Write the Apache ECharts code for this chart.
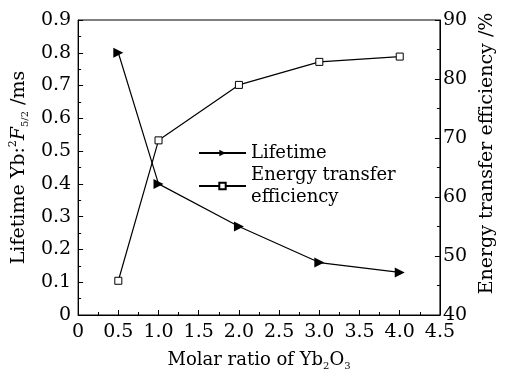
<!DOCTYPE html>
<html>
<head>
<meta charset="utf-8">
<script src="https://cdn.jsdelivr.net/npm/echarts@6/dist/echarts.min.js"></script>
<style>
  html, body { margin: 0; padding: 0; background: #fff; }
  #chart { width: 505px; height: 376px; }
</style>
</head>
<body>
<div id="chart"></div>
<script>
// molar ratio of Yb2O3
var ratios = [0.5, 1.0, 2.0, 3.0, 4.0];
// lifetime, ms
var lifetime = [0.80, 0.40, 0.27, 0.16, 0.13];
// energy transfer efficiency, %
var efficiency = [45.8, 69.6, 79.0, 82.9, 83.8];

var font = 'DejaVu Serif';

function pairs(xs, ys) {
    var out = [];
    for (var i = 0; i < xs.length; i++) {
        out.push([xs[i], ys[i]]);
    }
    return out;
}

var chart = echarts.init(document.getElementById('chart'));

var tickStyle = { inside: true, length: 5, lineStyle: { color: '#000', width: 1 } };
var minorStyle = { show: true, splitNumber: 2, length: 3, lineStyle: { color: '#000', width: 1 } };
var nameRich = {
    sup: { fontFamily: font, fontSize: 11, color: '#000', verticalAlign: 'top', lineHeight: 22 },
    sub: { fontFamily: font, fontSize: 10, color: '#000', verticalAlign: 'bottom', lineHeight: 22, padding: [6, 0, 0, 0] },
    it: { fontFamily: font, fontSize: 19, fontStyle: 'italic', color: '#000', lineHeight: 22 }
};

var option = {
    animation: false,
    backgroundColor: '#fff',
    grid: {
        left: 73, right: 50, top: 20, bottom: 53,
        show: true, borderColor: '#000', borderWidth: 1
    },
    legend: {
        orient: 'vertical',
        left: 198, top: 142, padding: 0,
        itemWidth: 47, itemHeight: 8, itemGap: 0,
        textStyle: { fontFamily: font, fontSize: 18, color: '#000', lineHeight: 22 },
        formatter: function (name) {
            return name === 'Energy transfer efficiency' ? 'Energy transfer\nefficiency' : name;
        },
        data: ['Lifetime', 'Energy transfer efficiency']
    },
    xAxis: {
        type: 'value', min: 0, max: 4.5, interval: 0.5,
        name: 'Molar ratio of Yb{sub|2}O{sub|3}',
        nameLocation: 'middle', nameGap: 34,
        nameTextStyle: { fontFamily: font, fontSize: 18, color: '#000', rich: nameRich },
        axisLine: { lineStyle: { color: '#000', width: 1 } },
        axisTick: tickStyle,
        minorTick: minorStyle,
        splitLine: { show: false },
        axisLabel: {
            fontFamily: font, fontSize: 19, color: '#000', margin: 8,
            formatter: function (v) { return v === 0 ? '0' : v.toFixed(1); }
        }
    },
    yAxis: [{
        type: 'value', min: 0, max: 0.9, interval: 0.1,
        name: 'Lifetime Yb:{sup|2}{it|F}{sub|5/2} /ms',
        nameLocation: 'middle', nameGap: 34,
        nameTextStyle: { fontFamily: font, fontSize: 19, color: '#000', rich: nameRich },
        axisLine: { show: true, lineStyle: { color: '#000', width: 1 } },
        axisTick: tickStyle,
        minorTick: minorStyle,
        splitLine: { show: false },
        axisLabel: {
            fontFamily: font, fontSize: 19, color: '#000', margin: 7,
            formatter: function (v) { return v === 0 ? '0' : v.toFixed(1); }
        }
    }, {
        type: 'value', min: 40, max: 90, interval: 10,
        position: 'right',
        name: 'Energy transfer efficiency /%',
        nameLocation: 'middle', nameGap: 34, nameRotate: 90,
        nameTextStyle: { fontFamily: font, fontSize: 19, color: '#000', padding: [0, 0, 0, 28] },
        axisLine: { show: true, lineStyle: { color: '#000', width: 1 } },
        axisTick: tickStyle,
        minorTick: minorStyle,
        splitLine: { show: false },
        axisLabel: { fontFamily: font, fontSize: 19, color: '#000', margin: 3 }
    }],
    series: [{
        name: 'Lifetime',
        type: 'line',
        yAxisIndex: 0,
        data: pairs(ratios, lifetime),
        symbol: 'triangle', symbolSize: 10, symbolRotate: -90,
        lineStyle: { color: '#000', width: 1.2 },
        itemStyle: { color: '#000' }
    }, {
        name: 'Energy transfer efficiency',
        type: 'line',
        yAxisIndex: 1,
        data: pairs(ratios, efficiency),
        symbol: 'rect', symbolSize: 7, showAllSymbol: true,
        lineStyle: { color: '#000', width: 1.2 },
        itemStyle: { color: '#fff', borderColor: '#000', borderWidth: 1 }
    }]
};

chart.setOption(option);
</script>
</body>
</html>
